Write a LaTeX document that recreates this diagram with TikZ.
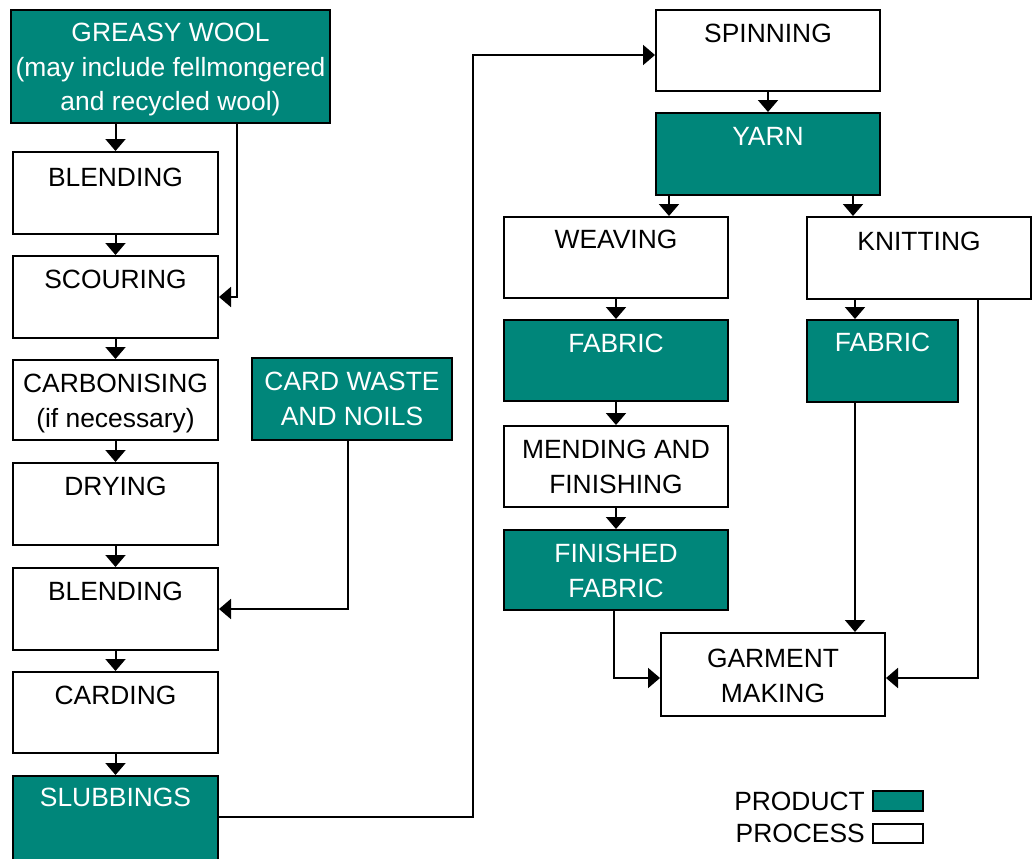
\documentclass[tikz,border=0pt]{standalone}
\usepackage{fontspec}
\setmainfont{Liberation Sans}
\usetikzlibrary{arrows.meta,calc}
\definecolor{teal}{RGB}{0,134,122}
\tikzset{
  x=1pt,y=-1pt,
  bx/.style={draw=black,line width=2pt,fill=white,rectangle,inner sep=0},
  prod/.style={bx,fill=teal},
  txt/.style={anchor=north,inner sep=0,align=center,font=\fontsize{26.4}{34.5}\selectfont},
  ptxt/.style={txt,text=white},
  arr/.style={line width=2pt,-{Triangle[width=20pt,length=12pt]}},
}
\begin{document}
\begin{tikzpicture}
\useasboundingbox (0,0) rectangle (1033,859);
% left column
\node[prod,minimum width=319pt,minimum height=113pt] (greasy) at (170.5,66.5) {};
\node[ptxt] at ([yshift=-14pt]greasy.north) {GREASY WOOL\\(may include fellmongered\\and recycled wool)};
\node[bx,minimum width=205pt,minimum height=82pt] (blend1) at (115.5,193) {};
\node[txt] at ([yshift=-17pt]blend1.north) {BLENDING};
\node[bx,minimum width=205pt,minimum height=82pt] (scour) at (115.5,297) {};
\node[txt] at ([yshift=-15pt]scour.north) {SCOURING};
\node[bx,minimum width=205pt,minimum height=80pt] (carb) at (115.5,400) {};
\node[txt] at ([yshift=-15pt]carb.north) {CARBONISING\\(if necessary)};
\node[bx,minimum width=205pt,minimum height=82pt] (dry) at (115.5,504) {};
\node[txt] at ([yshift=-15pt]dry.north) {DRYING};
\node[bx,minimum width=205pt,minimum height=82pt] (blend2) at (115.5,609) {};
\node[txt] at ([yshift=-15pt]blend2.north) {BLENDING};
\node[bx,minimum width=205pt,minimum height=81pt] (card) at (115.5,712.5) {};
\node[txt] at ([yshift=-15pt]card.north) {CARDING};
\node[prod,minimum width=205pt,minimum height=86pt] (slub) at (115.5,819) {};
\node[ptxt] at ([yshift=-13pt]slub.north) {SLUBBINGS};
\node[prod,minimum width=200pt,minimum height=82pt] (waste) at (352,399) {};
\node[ptxt] at ([yshift=-15pt]waste.north) {CARD WASTE\\AND NOILS};
% right side
\node[bx,minimum width=224pt,minimum height=81pt] (spin) at (768,50.5) {};
\node[txt] at ([yshift=-15pt]spin.north) {SPINNING};
\node[prod,minimum width=224pt,minimum height=82pt] (yarn) at (768,154) {};
\node[ptxt] at ([yshift=-15pt]yarn.north) {YARN};
\node[bx,minimum width=224pt,minimum height=81pt] (weave) at (616,257.5) {};
\node[txt] at ([yshift=-14pt]weave.north) {WEAVING};
\node[bx,minimum width=224pt,minimum height=82pt] (knit) at (919,258) {};
\node[txt] at ([yshift=-16pt]knit.north) {KNITTING};
\node[prod,minimum width=224pt,minimum height=81pt] (fab1) at (616,360.5) {};
\node[ptxt] at ([yshift=-15pt]fab1.north) {FABRIC};
\node[prod,minimum width=151pt,minimum height=82pt] (fab2) at (882.5,361) {};
\node[ptxt] at ([yshift=-14pt]fab2.north) {FABRIC};
\node[bx,minimum width=224pt,minimum height=81pt] (mend) at (616,466.5) {};
\node[txt] at ([yshift=-15pt]mend.north) {MENDING AND\\FINISHING};
\node[prod,minimum width=224pt,minimum height=80pt] (fin) at (616,570) {};
\node[ptxt] at ([yshift=-15pt]fin.north) {FINISHED\\FABRIC};
\node[bx,minimum width=224pt,minimum height=83pt] (garm) at (773,674.5) {};
\node[txt] at ([yshift=-17pt]garm.north) {GARMENT\\MAKING};
% legend
\node[prod,minimum width=50pt,minimum height=20pt] (lp) at (898,801) {};
\node[bx,minimum width=50pt,minimum height=19pt] (lq) at (898,833.5) {};
\node[txt,anchor=east] at ([xshift=-7pt]lp.west) {PRODUCT};
\node[txt,anchor=east] at ([xshift=-7pt]lq.west) {PROCESS};
% connectors
\draw[arr] (greasy.south -| blend1.north) -- (blend1.north);
\draw[arr] ([xshift=66.5pt]greasy.south) |- (scour.east);
\draw[arr] (blend1.south) -- (scour.north);
\draw[arr] (scour.south) -- (carb.north);
\draw[arr] (carb.south) -- (dry.north);
\draw[arr] (dry.south) -- (blend2.north);
\draw[arr] ([xshift=-4pt]waste.south) |- (blend2.east);
\draw[arr] (blend2.south) -- (card.north);
\draw[arr] (card.south) -- (slub.north);
\coordinate (sturn) at ([xshift=254pt,yshift=2pt]slub.east);
\draw[arr] ([yshift=2pt]slub.east) -- (sturn) |- ([yshift=-4.5pt]spin.west);
\draw[arr] (spin.south) -- (yarn.north);
\coordinate (yw) at ([xshift=14pt]yarn.south west);
\draw[arr] (yw) -- (yw |- weave.north);
\coordinate (yk) at ([xshift=85pt]yarn.south);
\draw[arr] (yk) -- (yk |- knit.north);
\draw[arr] (weave.south) -- (fab1.north);
\coordinate (kf) at ([xshift=-27.5pt]fab2.north);
\draw[arr] (kf |- knit.south) -- (kf);
\draw[arr] (fab1.south) -- (mend.north);
\draw[arr] (mend.south) -- (fin.north);
\draw[arr] ([xshift=-2pt]fin.south) |- ([yshift=-3.5pt]garm.west);
\coordinate (fg) at ([xshift=-27.5pt]fab2.south);
\draw[arr] (fg) -- (fg |- garm.north);
\draw[arr] ([xshift=59pt]knit.south) |- ([yshift=-3.5pt]garm.east);
\end{tikzpicture}
\end{document}
